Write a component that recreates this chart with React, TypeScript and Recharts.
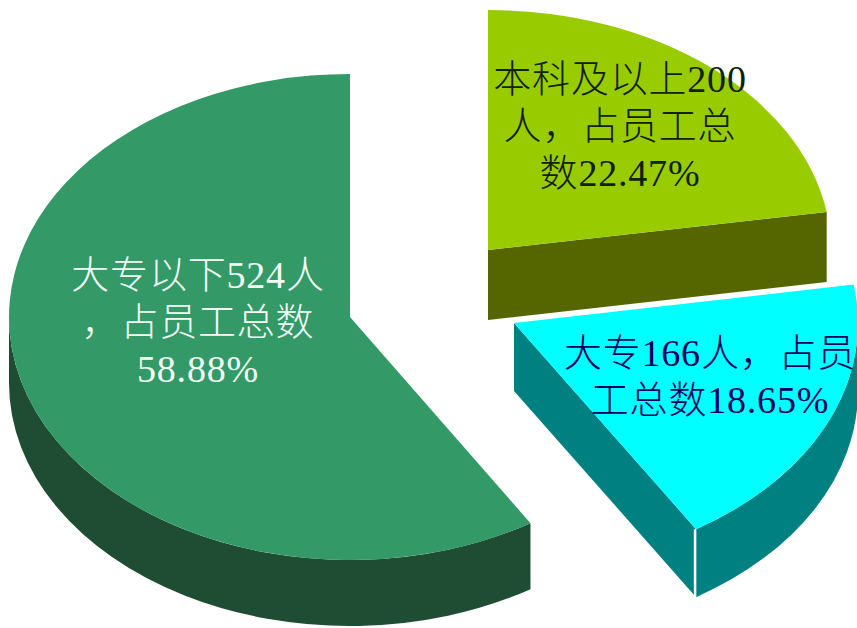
import React from "react";
import { PieChart, Pie } from "recharts";

// Staff breakdown by education level
const names = ["本科及以上", "大专", "大专以下"];
const headcounts = [200, 166, 524];
const faceColors = ["#99CC00", "#00FFFF", "#339966"];
const sideColors = ["#556600", "#008080", "#1E4D33"];
const labelColors = ["#102000", "#000060", "#F4FFF8"];
const labelLines = [
  ["本科及以上200", "人，占员工总", "数22.47%"],
  ["大专166人，占员", "工总数18.65%"],
  ["大专以下524人", "，占员工总数", "58.88%"],
];

const chartData = names.map((name, i) => ({
  name,
  value: headcounts[i],
  fill: faceColors[i],
}));

// Exploded-slice layout: shift from the pie centre, ellipse size and extrusion depth
const WIDTH = 857;
const HEIGHT = 628;
const PIE_CX = 350;
const PIE_CY = 317;
const RADIUS = 340;
const sliceShift = [
  { dx: 138, dy: -67, rxExtra: 3, ry: 240, depth: 70 },
  { dx: 164, dy: 6, rxExtra: 4, ry: 243, depth: 68 },
  { dx: 0, dy: 0, rxExtra: 1, ry: 243, depth: 66 },
];
// Text block anchor per slice: centre x and baseline of the first line
const labelAnchor = [
  { x: 620, y: 92 },
  { x: 710, y: 366 },
  { x: 198, y: 288 },
];
const LINE_GAP = 47;
const FONT_SIZE = 38;
const rad = (deg: number) => (deg * Math.PI) / 180;

function ExtrudedSlice(props: any) {
  const { cx, cy, outerRadius, startAngle, endAngle, name, fill } = props;
  const i = names.indexOf(name);
  const { dx, dy, rxExtra, ry, depth } = sliceShift[i];
  const ox = cx + dx;
  const oy = cy + dy;
  const rx = outerRadius + rxExtra;
  const at = (deg: number, drop = 0) => [
    ox + rx * Math.cos(rad(deg)),
    oy - ry * Math.sin(rad(deg)) + drop,
  ];
  const hi = Math.max(startAngle, endAngle);
  const lo = Math.min(startAngle, endAngle);
  const [sx, sy] = at(hi);
  const [ex, ey] = at(lo);
  const large = hi - lo > 180 ? 1 : 0;
  const top = `M${ox},${oy}L${sx},${sy}A${rx},${ry} 0 ${large} 1 ${ex},${ey}Z`;

  // Rim wall: only the part of the arc on the lower half faces the viewer
  const rimHi = Math.min(hi, 0);
  const rimLo = Math.max(lo, -180);
  let rim = "";
  if (rimHi > rimLo) {
    const [ax, ay] = at(rimHi);
    const [bx, by] = at(rimLo);
    rim = `M${ax},${ay}A${rx},${ry} 0 0 1 ${bx},${by}L${bx},${by + depth}A${rx},${ry} 0 0 0 ${ax},${ay + depth}Z`;
  }

  // Cut face along the clockwise edge of the wedge
  const cutVisible = Math.cos(rad(lo)) > 1e-6;
  const cut = cutVisible
    ? `M${ox},${oy}L${ex},${ey}L${ex},${ey + depth}L${ox},${oy + depth}Z`
    : "";
  const seam = cutVisible && rim && lo >= -180;

  return (
    <g>
      {rim && <path d={rim} fill={sideColors[i]} />}
      {cut && <path d={cut} fill={sideColors[i]} />}
      {seam && (
        <line x1={ex - 1} y1={ey} x2={ex - 1} y2={ey + depth} stroke="#FFFFFF" strokeWidth={2.5} />
      )}
      <path d={top} fill={fill} />
    </g>
  );
}

function SliceLabel(props: any) {
  const i = names.indexOf(props.name);
  const { x, y } = labelAnchor[i];
  return (
    <text
      textAnchor="middle"
      fontFamily='"Liberation Serif", "Noto Sans CJK SC", serif'
      fontWeight={300}
      fontSize={FONT_SIZE}
      letterSpacing={0.8}
      fill={labelColors[i]}
    >
      {labelLines[i].map((line, n) => (
        <tspan key={n} x={x} y={y + n * LINE_GAP}>
          {line}
        </tspan>
      ))}
    </text>
  );
}

export default function App() {
  return (
    <div style={{ width: WIDTH, height: HEIGHT, overflow: "hidden", background: "#FFFFFF" }}>
      <style>{"body { margin: 0; }"}</style>
      <PieChart width={WIDTH} height={HEIGHT} margin={{ top: 0, right: 0, bottom: 0, left: 0 }}>
        <Pie
          data={chartData}
          dataKey="value"
          nameKey="name"
          cx={PIE_CX}
          cy={PIE_CY}
          innerRadius={0}
          outerRadius={RADIUS}
          startAngle={90}
          endAngle={-270}
          stroke="none"
          isAnimationActive={false}
          shape={ExtrudedSlice}
          label={SliceLabel}
          labelLine={false}
        />
      </PieChart>
    </div>
  );
}
